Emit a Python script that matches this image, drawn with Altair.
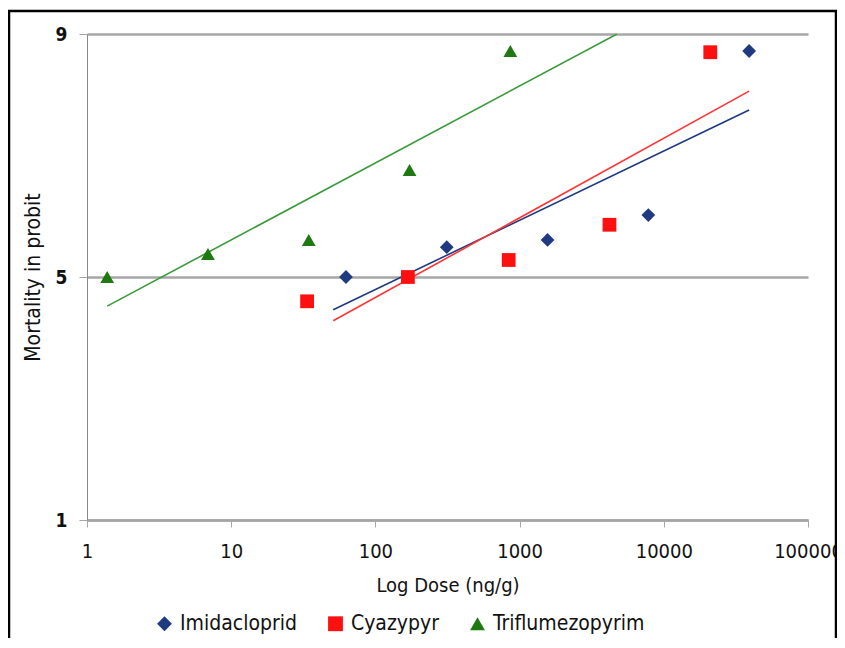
import altair as alt
import pandas as pd

compounds = ["Imidacloprid", "Cyazypyr", "Triflumezopyrim"]

imi_dose = [62.5, 312.5, 1562.5, 7812.5, 39062.5]
imi_probit = [5.0, 5.49, 5.61, 6.02, 8.72]

cya_dose = [33.6, 168, 840, 4200, 21000]
cya_probit = [4.60, 5.0, 5.28, 5.86, 8.70]

tri_dose = [1.38, 6.9, 34.5, 172.5, 862.5]
tri_probit = [5.0, 5.38, 5.61, 6.76, 8.72]

# fitted trend lines (endpoints)
imi_fit_dose = [51, 39062.5]
imi_fit_probit = [4.46, 7.75]
cya_fit_dose = [51, 39062.5]
cya_fit_probit = [4.28, 8.06]
tri_fit_dose = [1.38, 4735]
tri_fit_probit = [4.52, 9.0]

x_ticks = [1, 10, 100, 1000, 10000, 100000]
y_ticks = [1, 5, 9]

point_colors = ["#1F3A80", "#FF1010", "#1E7A10"]
line_colors = ["#1F3A80", "#FF3535", "#3A9A3A"]
shapes = ["diamond", "square", "triangle-up"]

pts = pd.concat([
    pd.DataFrame({"dose": imi_dose, "probit": imi_probit, "compound": compounds[0]}),
    pd.DataFrame({"dose": cya_dose, "probit": cya_probit, "compound": compounds[1]}),
    pd.DataFrame({"dose": tri_dose, "probit": tri_probit, "compound": compounds[2]}),
])
fits = pd.concat([
    pd.DataFrame({"dose": imi_fit_dose, "probit": imi_fit_probit, "compound": compounds[0]}),
    pd.DataFrame({"dose": cya_fit_dose, "probit": cya_fit_probit, "compound": compounds[1]}),
    pd.DataFrame({"dose": tri_fit_dose, "probit": tri_fit_probit, "compound": compounds[2]}),
])

FONT = "DejaVu Sans Condensed, Liberation Sans, sans-serif"

xscale = alt.Scale(type="log", domain=[1, 100000], nice=False)
yscale = alt.Scale(domain=[1, 9], nice=False, zero=False)

xenc = alt.X("dose:Q", scale=xscale, axis=alt.Axis(
    values=x_ticks, format="d", title="Log Dose (ng/g)", grid=False,
    domainColor="#A6A6A6", domainWidth=2.5, tickColor="#A6A6A6", tickSize=7,
    labelPadding=14, labelFontSize=20, titleFontSize=20, titleFontWeight="normal",
    titlePadding=14, labelColor="#111", titleColor="#111", labelFont=FONT, titleFont=FONT,
    labelFlush=False))
yenc = alt.Y("probit:Q", scale=yscale, axis=alt.Axis(
    values=y_ticks, format="d", title="Mortality in probit", grid=True, gridColor="#A6A6A6",
    gridWidth=2.5, domainColor="#888888", domainWidth=1, tickColor="#A6A6A6", tickSize=8,
    labelPadding=12, labelFontSize=19, labelFontWeight="bold", titleFontSize=21,
    titleFontWeight="normal", titlePadding=12, labelColor="#111", titleColor="#111",
    labelFont=FONT, titleFont=FONT))

leg = alt.Legend(title=None, orient="none", legendX=67, legendY=579,
                 direction="horizontal", columns=3, columnPadding=28,
                 symbolSize=220, labelFontSize=21, labelFont=FONT, labelOffset=5,
                 labelLimit=400, labelColor="#111", symbolStrokeWidth=0)

lines = alt.Chart(fits).mark_line(strokeWidth=1.6, clip=True).encode(
    x=xenc, y=yenc,
    detail="compound:N",
    stroke=alt.Stroke("compound:N", scale=alt.Scale(domain=compounds, range=line_colors), legend=leg),
)

points = alt.Chart(pts).mark_point(filled=True, size=190, opacity=1).encode(
    x=alt.X("dose:Q", scale=xscale),
    y=alt.Y("probit:Q", scale=yscale),
    color=alt.Color("compound:N", scale=alt.Scale(domain=compounds, range=point_colors),
                    legend=leg),
    shape=alt.Shape("compound:N", scale=alt.Scale(domain=compounds, range=shapes), legend=leg),
)

frame = alt.Chart(pd.DataFrame({"a": [0]})).mark_rect(
    fill=None, stroke="#000", strokeWidth=2.5, clip=False).encode(
    x=alt.value(-78), x2=alt.value(749), y=alt.value(-23), y2=alt.value(640))

chart = alt.layer(frame, lines, points).properties(
    width=721, height=486,
    autosize=alt.AutoSizeParams(type="none"),
    padding={"left": 79, "top": 26, "right": 29, "bottom": 118},
    background="white",
).configure_view(stroke=None)

chart.save("out.html", embed_options={"renderer": "svg", "actions": False})
